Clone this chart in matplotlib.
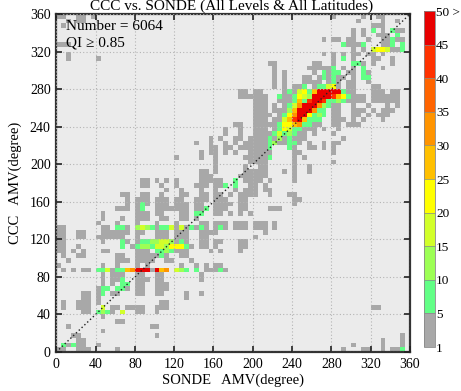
import numpy as np
import matplotlib
matplotlib.use("Agg")
import matplotlib.pyplot as plt
from matplotlib.colors import ListedColormap, BoundaryNorm

plt.rcParams['font.family'] = ['Liberation Serif', 'DejaVu Serif']

# 5-degree bins, first row = CCC 355-360, columns = SONDE 0..360
# '.' empty, g = 1-5, a..m = 5-10 ... 45-50, r = 50 >
cells = [
    "gg..gg.g|........|........|........|........|........|........|g.....g.|.gg.....",
    "..g.gg..|........|........|........|........|........|........|.....g..|..g..g..",
    ".g......|........|........|........|........|........|........|........|ggg.....",
    "........|........|........|........|........|........|........|....g.g.|a.g.agg.",
    "........|........|........|........|........|........|........|....g.g.|.ggg.a..",
    "........|........|........|........|........|........|......g.|gg.gg..g|..ggagg.",
    "ggg.....|........|........|........|........|........|........|..aggga.|..gga.a.",
    "........|........|........|........|........|........|........|....g.g.|cddcgga.",
    "..g.....|........|........|........|........|........|......g.|g.g.gg.g|g.g.....",
    "..g.....|g.......|........|........|........|........|........|g.a.g...|gg..g...",
    "........|........|........|........|........|...gg...|....gg..|g...aag.|g...g...",
    "........|........|........|........|........|....g...|...ggggg|a.g.g.a.|..g.....",
    "........|........|........|........|........|....g.g.|....g.ag|aa.gg.ag|........",
    "........|........|........|........|........|....g.g.|..gg.gag|agg.g.aa|........",
    "........|........|........|........|........|....g.g.|..gggg.g|ag.gg..g|........",
    "........|........|........|........|........|....g.g.|gga.gaac|dg.gg...|gg......",
    "........|........|........|........|.....gg.|gg....ga|gcdaerrr|rragg...|ggg.gg..",
    "........|........|........|........|.....ggg|ggg..agg|adcbrrrr|kedaggg.|gggggg..",
    "........|........|........|........|........|ggg..ggg|aeakrrka|abagggg.|gggggg..",
    "........|........|........|........|........|ggg.g.ga|cfrrrfba|gg..g..g|...g.g..",
    "........|........|........|........|........|ggg.gggb|errrfaa.|gg..ggg.|g.ggg...",
    "........|........|........|........|........|gggg.gad|frrdaba.|gg..gg.g|.ggg....",
    "........|........|........|........|........|ggg.ggce|kreaaa..|ggg.g.g.|..g.....",
    "........|........|........|........|....gg..|gggggadd|efaagg..|gg.ggg..|........",
    "........|........|........|........|..g..g..|ggg.gadc|aaggg.g.|.g......|........",
    "........|........|........|........|..g..g..|ggggacab|agg.g...|g.......|........",
    "........|........|........|.......g|.g..gg.g|gggagbga|ggg.....|..g.....|........",
    "........|........|........|....g..g|..g.g.gg|gggabgga|ag.g..g.|gg......|........",
    "........|........|........|.......g|g.gg.ggg|ggga...a|g..gg.g.|g.......|........",
    "........|........|........|.....g.g|g.g.g..g|gggg....|gg......|g.......|........",
    "........|........|........|g....g..|g.....gg|ggga....|g.g.....|........|........",
    "........|........|........|........|g......g|ggg.....|g.......|g.......|........",
    "........|........|........|........|g.....g.|.gg.....|g..g....|........|........",
    "........|........|........|.....gg.|g.....gg|ggg...g.|g..g....|........|........",
    "........|........|........|.....ggg|.....ggg|ggg.....|g.......|........|........",
    "........|........|.gg.g.g.|g....ggg|gg..a.gg|gg.g....|g.......|........|........",
    "........|........|.gg..g..|g...ggg.|gga.a..g|g.g.....|........|........|........",
    "........|........|......g.|.g...g..|g...g.gg|g.gg....|........|........|........",
    "........|.....gg.|.gg..g..|.gg..gg.|gg.g.ggg|g..g...g|g.......|........|........",
    "........|......g.|ggg.ggg.|gg..ggg.|ggg..gg.|........|gg......|........|........",
    "........|......g.|gag.ggg.|ggg.gg..|gggg.gg.|........|g.......|........|........",
    "........|....ggg.|ga..gggg|ggg.gga.|ggg..gg.|...ggg..|........|........|........",
    "........|.g......|ggg.gg..|.gg.aa..|gg.g.g.g|........|........|........|........",
    "........|.g...g..|ggg..gg.|.gg.g...|........|........|........|........|........",
    "........|g...g...|g...g...|g....gg.|ggg.ggg.|ggg.g...|........|........|........",
    "gg......|.gg.aag.|bcbagaac|gcgagag.|gag.ggg.|ggg.g...|........|........|........",
    "gg..gg..|.gggggg.|gg..ggg.|ggg..ggg|g.......|..g.....|........|........|........",
    "gg..gg..|gggggg..|g...ggg.|ggg..gg.|........|g.......|........|........|........",
    "gg......|.g...ag.|gaabbccb|gag..gg.|gg...gg.|........|........|........|........",
    "gg..g...|.....a.g|abbaccbd|ddag.gg.|g....gg.|........|........|........|........",
    "gg.g.g..|.gg.....|ggg.aaba|ggg....g|.g...g..|........|........|........|........",
    ".g..gg..|....gg..|gggggag.|.gg.....|........|........|........|........|........",
    "..g.....|....ggg.|gggg..gg|...g....|........|........|........|........|........",
    "g.......|.g..g...|g.g.....|.g..g.g.|gg......|........|........|........|........",
    ".g.g.gg.|aacgaaef|rrrgref.|cba.a.gg|gag.....|........|........|........|........",
    "........|.g.ggg..|gg..gg..|.....g..|........|........|........|........|........",
    "........|.g.gga..|ggg.gg..|.....g..|........|........|........|........|........",
    "........|.g.g.aa.|gg..ggg.|........|........|........|........|........|........",
    "........|gaa.aag.|gg..ggg.|........|........|........|........|........|........",
    ".....gg.|ga.gg...|gg..gg..|..g..g..|........|........|........|........|........",
    ".....gg.|g.......|........|..g.....|........|........|........|........|........",
    ".g..ggg.|g.......|.....gg.|........|........|........|........|........|........",
    ".g..ggg.|.c.gg.gg|gg..ggg.|........|........|........|........|........|gg......",
    ".....gg.|abag.c..|gg..g...|........|........|........|........|........|........",
    "........|.g......|........|........|........|........|........|........|........",
    "........|....gg..|........|........|........|........|........|........|........",
    "..g.....|........|...gg...|........|........|........|........|........|........",
    "........|.g......|........|........|........|........|........|........|........",
    "...gg...|........|....g...|........|........|........|........|........|......g.",
    "....gg..|........|........|........|........|........|........|........|..g...g.",
    ".agagg..|g.......|........|........|........|........|........|....g...|..g...g.",
    "gg..ggg.|....g...|........|........|........|........|........|..g...gg|..g.gga.",
]
class_counts = {'.': 0, 'g': 2, 'a': 7, 'b': 12, 'c': 17, 'd': 22, 'e': 27,
                'f': 32, 'h': 37, 'k': 42, 'm': 47, 'r': 55}

levels = [1, 5, 10, 15, 20, 25, 30, 35, 40, 45, 50]
level_labels = ['1', '5', '10', '15', '20', '25', '30', '35', '40', '45', '50 >']
level_colors = ['#a8a8a8', '#62ff86', '#9dff55', '#d2ff2a', '#ffff00',
                '#ffc000', '#ff9400', '#ff6400', '#ff3200', '#e80000']

ticks = list(range(0, 361, 40))
n_points = 6064

rows = [r.replace('|', '') for r in cells]
for k, r in enumerate(rows):
    if len(r) != 72:
        raise ValueError(f"row {k} has {len(r)} cells")
counts = np.array([[class_counts[c] for c in r] for r in rows[::-1]], dtype=float)
counts[counts == 0] = np.nan

edges = np.arange(0, 361, 5)

cmap = ListedColormap(level_colors)
cmap.set_over(level_colors[-1])
norm = BoundaryNorm(levels, cmap.N)

fig = plt.figure(figsize=(4.61, 3.91), dpi=100)
ax = fig.add_axes([0.1221, 0.0997, 0.7673, 0.8645])
ax.set_facecolor('#ebebeb')

mesh = ax.pcolormesh(edges, edges, counts, cmap=cmap, norm=norm)
ax.plot([0, 360], [0, 360], color='#222222', lw=1, linestyle=(0, (1, 1.8)))

ax.set_xlim(0, 360)
ax.set_ylim(0, 360)
ax.set_xticks(ticks)
ax.set_yticks(ticks)
ax.grid(True, color='#b4b4b4', linestyle=(0, (1, 2)), lw=0.8)
ax.set_axisbelow(False)
for g in ax.get_xgridlines() + ax.get_ygridlines():
    g.set_zorder(0.5)
mesh.set_zorder(1)
ax.tick_params(direction='in', top=True, right=True, length=4, width=1.2,
               labelsize=10, pad=4, color='#222222')
for s in ax.spines.values():
    s.set_linewidth(1.6)
    s.set_color('#333333')

ax.set_xlabel('SONDE   AMV(degree)', fontsize=10.5, labelpad=2)
ax.set_ylabel('CCC   AMV(degree)', fontsize=10.5, labelpad=6)

ax.text(10, 347, f'Number = {n_points}', fontsize=11, va='center', ha='left')
ax.text(10, 329, 'QI \u2265 0.85', fontsize=11, va='center', ha='left')

fig.text(0.503, 0.975, 'CCC vs. SONDE (All Levels & All Latitudes)',
         fontsize=11, ha='center', va='baseline')

cax = fig.add_axes([0.919, 0.1125, 0.0239, 0.8593])
cb = fig.colorbar(mesh, cax=cax, ticks=levels, extend='neither', drawedges=True)
cb.ax.set_yticklabels(level_labels)
cb.ax.tick_params(length=0, labelsize=9.5, pad=1)
cb.outline.set_linewidth(0.6)
cb.outline.set_edgecolor('#888888')
cb.dividers.set_color('#888888')
cb.dividers.set_linewidth(0.5)

fig.savefig('out.png', dpi=100)
